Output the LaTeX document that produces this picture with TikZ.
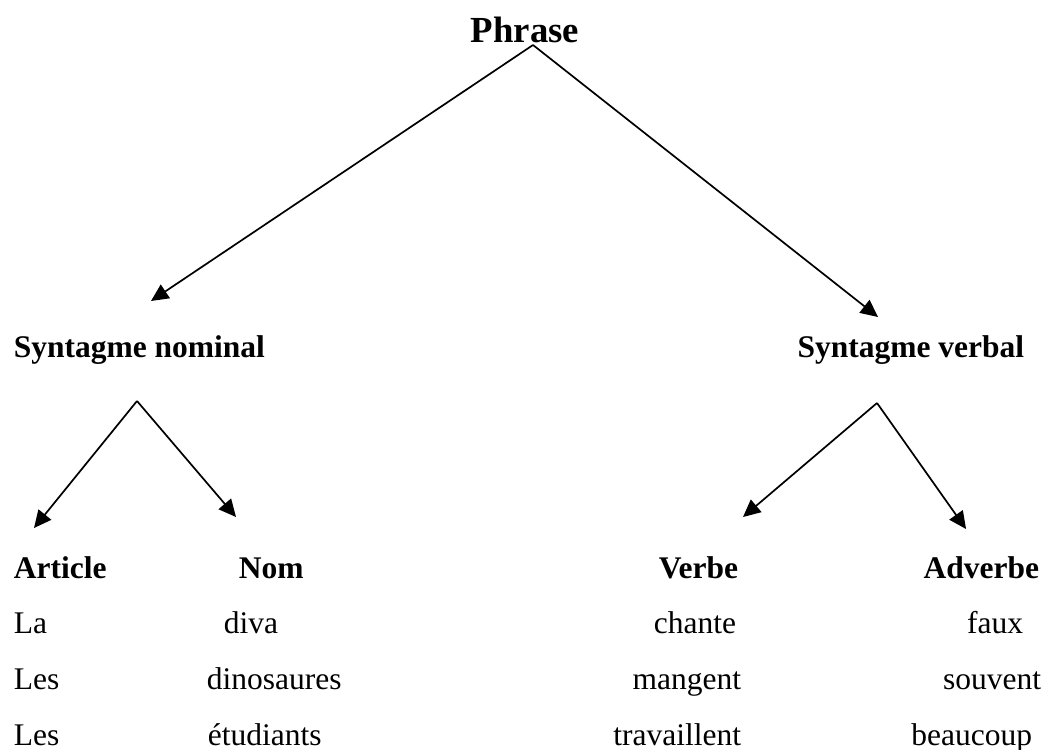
\documentclass[tikz,border=0pt]{standalone}
\usepackage{fontspec}
\setmainfont{Liberation Serif}
\usetikzlibrary{arrows.meta}

\begin{document}
\begin{tikzpicture}[%
		x=0.381pt,
		y=-0.381pt,
		->,
		>={Triangle[length=6.6pt,width=6.2pt]},
		line width=0.65pt,
		titre/.style={%
			inner sep=0pt,
			anchor=base,
			font=\fontsize{14}{17}\selectfont\bfseries
		},
		categ/.style={%
			inner sep=0pt,
			font=\fontsize{12}{14}\selectfont\bfseries
		},
		mot/.style={%
			inner sep=0pt,
			font=\fontsize{12}{14}\selectfont
		}
		]
		\useasboundingbox (0,0) rectangle (1045,749);
		
		\node[titre] (phrase)                                          at (525,42)  {Phrase};
		\node[categ,anchor=base west] (sn)                             at (13,357)  {Syntagme nominal};
		\node[categ,anchor=base east] (sv)                             at (1025,357) {Syntagme verbal};
		
		\node[categ,anchor=base west] (article)                        at (13,578)  {Article};
		\node[categ,anchor=base west] (nom)                            at (238,578) {Nom};
		\node[categ,anchor=base east] (verbe)                          at (739,578) {Verbe};
		\node[categ,anchor=base east] (adverbe)                        at (1040,578) {Adverbe};
		
		% mots
		\node[mot,anchor=base west] (art1) at (13,633)   {La};
		\node[mot,anchor=base west] (art2) at (13,689)   {Les};
		\node[mot,anchor=base west] (art3) at (13,745)   {Les};
		\node[mot,anchor=base west] (nom1) at (223,633)  {diva};
		\node[mot,anchor=base west] (nom2) at (206,689)  {dinosaures};
		\node[mot,anchor=base west] (nom3) at (207,745)  {étudiants};
		\node[mot,anchor=base east] (vb1)  at (737,633)  {chante};
		\node[mot,anchor=base east] (vb2)  at (742,689)  {mangent};
		\node[mot,anchor=base east] (vb3)  at (742,745)  {travaillent};
		\node[mot,anchor=base east] (adv1) at (1024,633) {faux};
		\node[mot,anchor=base east] (adv2) at (1042,689) {souvent};
		\node[mot,anchor=base east] (adv3) at (1033,745) {beaucoup};
		
		% points des fleches
		\coordinate (p0) at (533,45);
		\coordinate (p1) at (151,301);
		\coordinate (p2) at (878,317);
		\coordinate (n0) at (137,401);
		\coordinate (n1) at (34,528);
		\coordinate (n2) at (236,517);
		\coordinate (v0) at (877,403);
		\coordinate (v1) at (743,517);
		\coordinate (v2) at (966,529);
		
		\path (p0) edge (p1)
		(p0) edge (p2)
		(n0) edge (n1)
		(n0) edge (n2)
		(v0) edge (v1)
		(v0) edge (v2);
		\end{tikzpicture}
\end{document}
